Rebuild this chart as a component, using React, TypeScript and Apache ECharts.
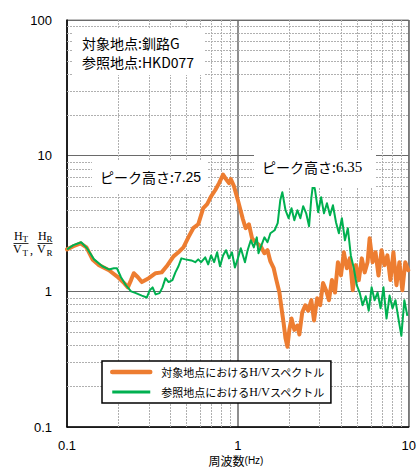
import React, { useEffect, useRef } from "react";
import * as echarts from "echarts";

// ---- data ----
const xRange = [0.1, 10];
const yRange = [0.1, 100];
const xMinor = [0.2, 0.3, 0.4, 0.5, 0.6, 0.7, 0.8, 0.9, 2, 3, 4, 5, 6, 7, 8, 9];
const yMinor = [0.2, 0.3, 0.4, 0.5, 0.6, 0.7, 0.8, 0.9, 2, 3, 4, 5, 6, 7, 8, 9, 20, 30, 40, 50, 60, 70, 80, 90];

const targetName = "対象地点におけるH/Vスペクトル";
const referenceName = "参照地点におけるH/Vスペクトル";
const siteLabels = ["対象地点:釧路G", "参照地点:HKD077"];
const targetPeak = 7.25;
const referencePeak = 6.35;
const xTitle = "周波数";
const xUnit = "(Hz)";

// [frequency Hz, H/V]
const targetSpectrum: [number, number][] = [
  [0.1, 2.04], [0.109, 2.15], [0.12, 2.26], [0.13, 2.11], [0.141, 1.72], [0.154, 1.56],
  [0.176, 1.43], [0.196, 1.29], [0.216, 1.15], [0.227, 1.07], [0.237, 1.21], [0.246, 1.36],
  [0.26, 1.27], [0.274, 1.17], [0.301, 1.25], [0.33, 1.36], [0.358, 1.38], [0.383, 1.53],
  [0.42, 1.81], [0.449, 1.94], [0.48, 2.11], [0.513, 2.5], [0.548, 2.92], [0.586, 3.12],
  [0.627, 4.1], [0.661, 4.39], [0.697, 5.02], [0.736, 5.56], [0.776, 6.27], [0.819, 7.25],
  [0.852, 6.71], [0.887, 6.27], [0.91, 6.71], [0.948, 5.96], [1.0, 4.69], [1.07, 3.4],
  [1.11, 2.92], [1.16, 3.12], [1.21, 2.46], [1.27, 2.3], [1.36, 2.15], [1.43, 1.91],
  [1.49, 2.01], [1.55, 1.66], [1.62, 1.48], [1.68, 1.21], [1.75, 0.98], [1.8, 0.75],
  [1.85, 0.59], [1.9, 0.45], [1.95, 0.39], [2.0, 0.52], [2.06, 0.63], [2.14, 0.52],
  [2.23, 0.56], [2.29, 0.48], [2.38, 0.7], [2.48, 0.79], [2.58, 0.72], [2.69, 0.86],
  [2.79, 0.61], [2.91, 0.89], [3.03, 0.79], [3.15, 1.15], [3.28, 1.02], [3.41, 0.86],
  [3.55, 1.21], [3.7, 0.98], [3.85, 1.64], [4.01, 1.31], [4.17, 1.94], [4.34, 1.48],
  [4.52, 1.75], [4.7, 1.02], [4.9, 1.56], [5.1, 1.21], [5.31, 1.75], [5.52, 1.38],
  [5.74, 1.64], [5.9, 2.46], [6.14, 1.64], [6.39, 1.94], [6.65, 1.31], [6.93, 2.01],
  [7.21, 1.56], [7.5, 1.84], [7.81, 1.21], [8.13, 1.94], [8.47, 1.11], [8.81, 1.64],
  [9.17, 1.02], [9.54, 1.64], [9.93, 1.43],
];

const referenceSpectrum: [number, number][] = [
  [0.1, 2.04], [0.109, 2.19], [0.121, 2.3], [0.131, 2.08], [0.144, 1.72], [0.161, 1.53],
  [0.176, 1.45], [0.188, 1.48], [0.196, 1.48], [0.207, 1.27], [0.221, 1.11], [0.237, 1.0],
  [0.253, 0.97], [0.274, 0.93], [0.293, 0.9], [0.305, 1.02], [0.317, 1.07], [0.33, 0.95],
  [0.348, 0.97], [0.362, 1.07], [0.377, 1.25], [0.393, 1.17], [0.414, 1.21], [0.431, 1.38],
  [0.449, 1.53], [0.467, 1.75], [0.493, 1.72], [0.534, 1.69], [0.563, 1.64], [0.586, 1.72],
  [0.61, 1.64], [0.644, 1.78], [0.67, 1.58], [0.697, 1.84], [0.726, 1.64], [0.756, 1.94],
  [0.786, 1.53], [0.819, 1.84], [0.852, 2.01], [0.887, 1.75], [0.923, 1.94], [0.961, 1.5],
  [1.0, 1.75], [1.04, 2.08], [1.1, 1.64], [1.14, 2.01], [1.19, 2.38], [1.24, 2.11],
  [1.29, 2.5], [1.32, 1.91], [1.38, 2.22], [1.43, 2.5], [1.49, 2.3], [1.55, 2.68],
  [1.64, 2.82], [1.71, 3.18], [1.77, 4.69], [1.82, 5.38], [1.9, 3.96], [1.98, 3.46],
  [2.06, 4.1], [2.14, 3.34], [2.23, 3.96], [2.32, 3.46], [2.41, 4.24], [2.51, 3.76],
  [2.61, 3.02], [2.69, 4.86], [2.76, 6.35], [2.83, 5.56], [2.95, 3.83], [3.07, 4.94],
  [3.19, 3.76], [3.32, 4.46], [3.46, 3.64], [3.6, 4.31], [3.75, 3.23], [3.9, 2.68],
  [4.06, 3.46], [4.23, 2.38], [4.4, 2.92], [4.58, 1.84], [4.77, 1.48], [4.96, 1.11],
  [5.16, 0.98], [5.37, 0.79], [5.6, 0.92], [5.83, 0.72], [6.06, 1.07], [6.31, 0.86],
  [6.57, 0.98], [6.84, 0.75], [7.11, 1.07], [7.41, 0.63], [7.72, 0.93], [8.03, 0.75],
  [8.36, 0.86], [8.7, 0.63], [9.05, 0.47], [9.42, 0.86], [9.81, 0.66],
];

const orange = "#ED7D31";
const green = "#00B050";
const sans = '"Liberation Sans", Arial, sans-serif';
const cjk = '"Noto Sans CJK JP", sans-serif';
const serif = '"Liberation Serif", "Times New Roman", serif';

function fmtTick(v: number) {
  return v < 1 ? v.toFixed(1) : String(Math.round(v));
}

function minorLine(vertical: boolean) {
  return (params: any, api: any) => {
    const p = api.coord([api.value(0), api.value(1)]);
    const cs = params.coordSys;
    if (vertical) {
      const x = Math.round(p[0]) + 0.5;
      return {
        type: "line",
        shape: { x1: x, y1: cs.y, x2: x, y2: cs.y + cs.height },
        style: { stroke: "#b0b0b0", lineWidth: 1, lineDash: [2, 1] },
      };
    }
    const y = Math.round(p[1]) + 0.5;
    return {
      type: "line",
      shape: { x1: cs.x, y1: y, x2: cs.x + cs.width, y2: y },
      style: { stroke: "#b0b0b0", lineWidth: 1, lineDash: [2, 1] },
    };
  };
}

function fraction(x: number, sub: string) {
  return [
    { type: "text", x, y: 236, style: { text: "H", fontFamily: serif, fontSize: 12, fill: "#000", verticalAlign: "middle" } },
    { type: "text", x: x + 8.5, y: 239, style: { text: sub, fontFamily: serif, fontSize: 9, fill: "#000", verticalAlign: "middle" } },
    { type: "line", shape: { x1: x - 0.5, y1: 243.5, x2: x + 14.5, y2: 243.5 }, style: { stroke: "#000", lineWidth: 0.8 } },
    { type: "text", x: x - 1, y: 249, style: { text: "V", fontFamily: serif, fontSize: 12, fill: "#000", verticalAlign: "middle" } },
    { type: "text", x: x + 8.5, y: 252.5, style: { text: sub, fontFamily: serif, fontSize: 9, fill: "#000", verticalAlign: "middle" } },
  ];
}

export default function App() {
  const ref = useRef<HTMLDivElement>(null);
  useEffect(() => {
    if (!ref.current) return;
    const chart = echarts.init(ref.current, undefined, { renderer: "svg" });
    const option: any = {
      animation: false,
      backgroundColor: "#fff",
      grid: { left: 67, right: 7, top: 20, bottom: 41, show: true, borderColor: "#808080", borderWidth: 1 },
      xAxis: {
        type: "log",
        logBase: 10,
        min: xRange[0],
        max: xRange[1],
        axisLine: { show: true, onZero: false, lineStyle: { color: "#000", width: 1.5 } },
        axisTick: { show: false },
        splitLine: { show: true, lineStyle: { color: "#6a6a6a", width: 1.5 } },
        axisLabel: { margin: 12, fontSize: 13, fontFamily: sans, color: "#000", formatter: fmtTick },
      },
      yAxis: {
        type: "log",
        logBase: 10,
        min: yRange[0],
        max: yRange[1],
        axisLine: { show: true, onZero: false, lineStyle: { color: "#000", width: 1.5 } },
        axisTick: { show: false },
        splitLine: { show: true, lineStyle: { color: "#6a6a6a", width: 1 } },
        axisLabel: { margin: 15, fontSize: 13, fontFamily: sans, color: "#000", formatter: fmtTick },
      },
      legend: {
        orient: "vertical",
        left: 102,
        top: 361,
        padding: [5, 6, 5, 8],
        itemGap: 8,
        itemWidth: 38,
        itemHeight: 14,
        backgroundColor: "#fff",
        borderColor: "#000",
        borderWidth: 1.5,
        borderRadius: 0,
        selectedMode: false,
        data: [
          { name: targetName, lineStyle: { width: 4.5 }, itemStyle: { opacity: 0 } },
          { name: referenceName, lineStyle: { width: 3 }, itemStyle: { opacity: 0 } },
        ],
        formatter: (name: string) => name.replace("H/V", "{s|H/V}"),
        textStyle: {
          fontFamily: cjk,
          fontSize: 11,
          color: "#000",
          padding: [0, 0, 0, 6],
          rich: { s: { fontFamily: serif, fontSize: 12, color: "#000" } },
        },
      },
      series: [
        {
          type: "custom",
          silent: true,
          z: 1,
          data: xMinor.map((v) => [v, 1]),
          encode: { x: 0, y: 1 },
          renderItem: minorLine(true),
        },
        {
          type: "custom",
          silent: true,
          z: 1,
          data: yMinor.map((v) => [1, v]),
          encode: { x: 0, y: 1 },
          renderItem: minorLine(false),
        },
        {
          name: targetName,
          type: "line",
          z: 3,
          data: targetSpectrum,
          symbol: "none",
          showSymbol: false,
          lineStyle: { color: orange, width: 4, join: "round", cap: "round" },
          itemStyle: { color: orange },
        },
        {
          name: referenceName,
          type: "line",
          z: 4,
          data: referenceSpectrum,
          symbol: "none",
          showSymbol: false,
          lineStyle: { color: green, width: 2, join: "round" },
          itemStyle: { color: green },
        },
      ],
      graphic: [
        { type: "rect", z: 10, shape: { x: 73, y: 29, width: 132, height: 46 }, style: { fill: "#fff" } },
        { type: "text", z: 11, x: 82, y: 43, style: { text: siteLabels[0], fontFamily: cjk, fontSize: 14, fill: "#000", verticalAlign: "middle" } },
        { type: "text", z: 11, x: 82, y: 62, style: { text: siteLabels[1], fontFamily: cjk, fontSize: 14, fill: "#000", verticalAlign: "middle" } },
        { type: "rect", z: 10, shape: { x: 92, y: 160, width: 116, height: 33 }, style: { fill: "#fff" } },
        {
          type: "text", z: 11, x: 100, y: 177,
          style: { text: "ピーク高さ:{n|" + targetPeak.toFixed(2) + "}", fontFamily: cjk, fontSize: 14, fill: "#000", verticalAlign: "middle", rich: { n: { fontFamily: sans, fontSize: 14, fill: "#000" } } },
        },
        { type: "rect", z: 10, shape: { x: 254, y: 150, width: 122, height: 37 }, style: { fill: "#fff" } },
        {
          type: "text", z: 11, x: 262, y: 167,
          style: { text: "ピーク高さ:{n|" + referencePeak.toFixed(2) + "}", fontFamily: cjk, fontSize: 14, fill: "#000", verticalAlign: "middle", rich: { n: { fontFamily: serif, fontSize: 15, fill: "#000" } } },
        },
        {
          type: "text", z: 11, x: 236, y: 460,
          style: { text: xTitle + "{u|" + xUnit + "}", fontFamily: cjk, fontSize: 12, fill: "#000", align: "center", verticalAlign: "middle", rich: { u: { fontFamily: sans, fontSize: 10, fill: "#000" } } },
        },
        ...fraction(14, "T"),
        { type: "text", x: 30, y: 250, style: { text: ",", fontFamily: serif, fontSize: 12, fill: "#000", verticalAlign: "middle" } },
        ...fraction(38, "R"),
      ],
    };
    chart.setOption(option);
    return () => chart.dispose();
  }, []);
  return <div ref={ref} style={{ position: "absolute", left: 0, top: 0, width: 419, height: 468 }} />;
}
